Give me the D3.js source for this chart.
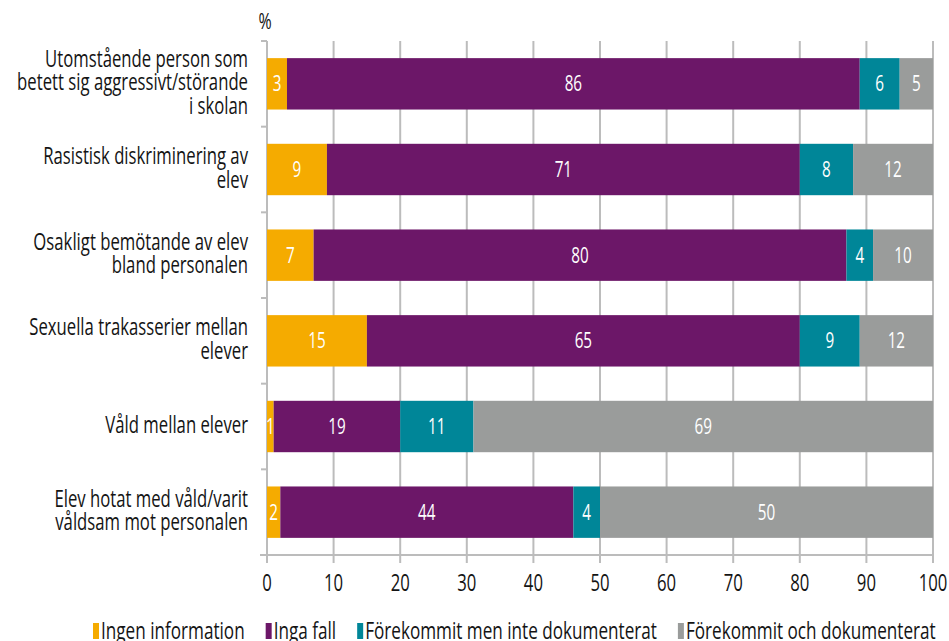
<!DOCTYPE html>
<html>
<head>
<meta charset="utf-8">
<script src="https://cdn.jsdelivr.net/npm/d3@7"></script>
<style>
  html, body { margin: 0; padding: 0; background: #fff; }
  svg { display: block; }
  text { font-family: "Open Sans", "Noto Sans", sans-serif; font-weight: 500; }
</style>
</head>
<body>
<svg id="chart" width="949" height="641"></svg>
<script>
// Incident categories (one label line per array entry)
const categories = [
  ["Utomstående person som", "betett sig aggressivt/störande", "i skolan"],
  ["Rasistisk diskriminering av", "elev"],
  ["Osakligt bemötande av elev", "bland personalen"],
  ["Sexuella trakasserier mellan", "elever"],
  ["Våld mellan elever"],
  ["Elev hotat med våld/varit", "våldsam mot personalen"]
];

// Series (share of schools, %)
const seriesNames = [
  "Ingen information",
  "Inga fall",
  "Förekommit men inte dokumenterat",
  "Förekommit och dokumenterat"
];
const ingenInformation = [3, 9, 7, 15, 1, 2];
const ingaFall = [86, 71, 80, 65, 19, 44];
const forekommitInteDok = [6, 8, 4, 9, 11, 4];
const forekommitDok = [5, 12, 10, 12, 69, 50];

const seriesColors = ["#f5ab00", "#6c1768", "#008698", "#9a9c9b"];
const xTicks = [0, 10, 20, 30, 40, 50, 60, 70, 80, 90, 100];

const rows = categories.map((c, i) => ({
  key: i,
  s0: ingenInformation[i],
  s1: ingaFall[i],
  s2: forekommitInteDok[i],
  s3: forekommitDok[i]
}));

const svg = d3.select("#chart");
const margin = { left: 267, right: 16, top: 41, bottom: 86 };
const W = 949, H = 641;
const textColor = "#141414";
const baseSize = 23;

// Narrow type: a regular face squeezed horizontally to a condensed width.
function squeezeFor(str, size, width) {
  const probe = svg.append("text").attr("font-size", size).text(str);
  const k = width / probe.node().getComputedTextLength();
  probe.remove();
  return k;
}
const squeeze = squeezeFor("Utomstående person som", baseSize, 203);
const legendSqueeze = squeezeFor("Förekommit men inte dokumenterat", baseSize, 292);

function label(parent, px, py, anchor, size, fill, k = squeeze) {
  return parent.append("text")
    .attr("transform", `translate(${px},${py}) scale(${k},1)`)
    .attr("text-anchor", anchor)
    .attr("font-size", size)
    .attr("fill", fill);
}

const x = d3.scaleLinear().domain([0, 100]).range([margin.left, W - margin.right]);
const y = d3.scaleBand().domain(rows.map(d => d.key)).range([margin.top, H - margin.bottom])
  .paddingInner(0.4).paddingOuter(0.2);

const axisColor = "#bcbcbc";

// vertical gridlines
svg.append("g").selectAll("line").data(xTicks).join("line")
  .attr("x1", d => x(d)).attr("x2", d => x(d))
  .attr("y1", margin.top).attr("y2", H - margin.bottom + 8)
  .attr("stroke", axisColor).attr("stroke-width", 2);

// bottom axis line
svg.append("line")
  .attr("x1", margin.left - 7).attr("x2", x(100))
  .attr("y1", H - margin.bottom).attr("y2", H - margin.bottom)
  .attr("stroke", axisColor).attr("stroke-width", 2);

// left axis with ticks at band boundaries
const bounds = d3.range(rows.length + 1).map(i => margin.top + i * y.step());
svg.append("line")
  .attr("x1", margin.left).attr("x2", margin.left)
  .attr("y1", margin.top).attr("y2", H - margin.bottom)
  .attr("stroke", axisColor).attr("stroke-width", 2);
svg.append("g").selectAll("line").data(bounds).join("line")
  .attr("x1", margin.left - 6).attr("x2", margin.left)
  .attr("y1", d => d).attr("y2", d => d)
  .attr("stroke", axisColor).attr("stroke-width", 2);

// stacked bars
const keys = ["s0", "s1", "s2", "s3"];
const stacked = d3.stack().keys(keys)(rows);

svg.append("clipPath").attr("id", "plot-clip")
  .append("rect").attr("x", x(0)).attr("y", 0).attr("width", x(100) - x(0)).attr("height", H);

const layers = svg.append("g").attr("clip-path", "url(#plot-clip)")
  .selectAll("g").data(stacked).join("g")
  .attr("fill", (d, i) => seriesColors[i]);

layers.selectAll("rect").data(d => d).join("rect")
  .attr("x", d => x(d[0]))
  .attr("y", d => y(d.data.key))
  .attr("width", d => x(d[1]) - x(d[0]))
  .attr("height", y.bandwidth());

// value labels, centred on the visible part of each segment
const labels = svg.append("g");
stacked.forEach(layer => {
  layer.forEach(d => {
    const v = d.data[layer.key];
    const a = Math.min(d[0], 100), b = Math.min(d[1], 100);
    label(labels, x((a + b) / 2), y(d.data.key) + y.bandwidth() / 2, "middle", 21, "#fff")
      .attr("dy", "0.36em")
      .style("font-weight", 400)
      .text(v);
  });
});

// category labels
const lineH = 23.5;
const catG = svg.append("g");
categories.forEach((lines, i) => {
  const cy = y(i) + y.bandwidth() / 2 - 2;
  const t = label(catG, 248, cy, "end", baseSize, textColor);
  lines.forEach((ln, j) => {
    t.append("tspan")
      .attr("x", 0)
      .attr("y", (j - (lines.length - 1) / 2) * lineH)
      .attr("dy", "0.36em")
      .text(ln);
  });
});

// x tick labels
const tickG = svg.append("g");
xTicks.forEach(v => {
  label(tickG, x(v), 591, "middle", 23, textColor).text(v);
});

// unit label
label(svg, x(0) - 2, 29, "middle", 22, textColor).text("%");

// legend
const legend = svg.append("g");
let lx = 93;
seriesNames.forEach((name, i) => {
  legend.append("rect").attr("x", lx).attr("y", 623).attr("width", 6).attr("height", 16)
    .attr("fill", seriesColors[i]);
  const t = label(legend, lx + 8, 639, "start", baseSize, textColor, legendSqueeze).text(name);
  lx += 8 + t.node().getComputedTextLength() * legendSqueeze + 21;
});
</script>
</body>
</html>
